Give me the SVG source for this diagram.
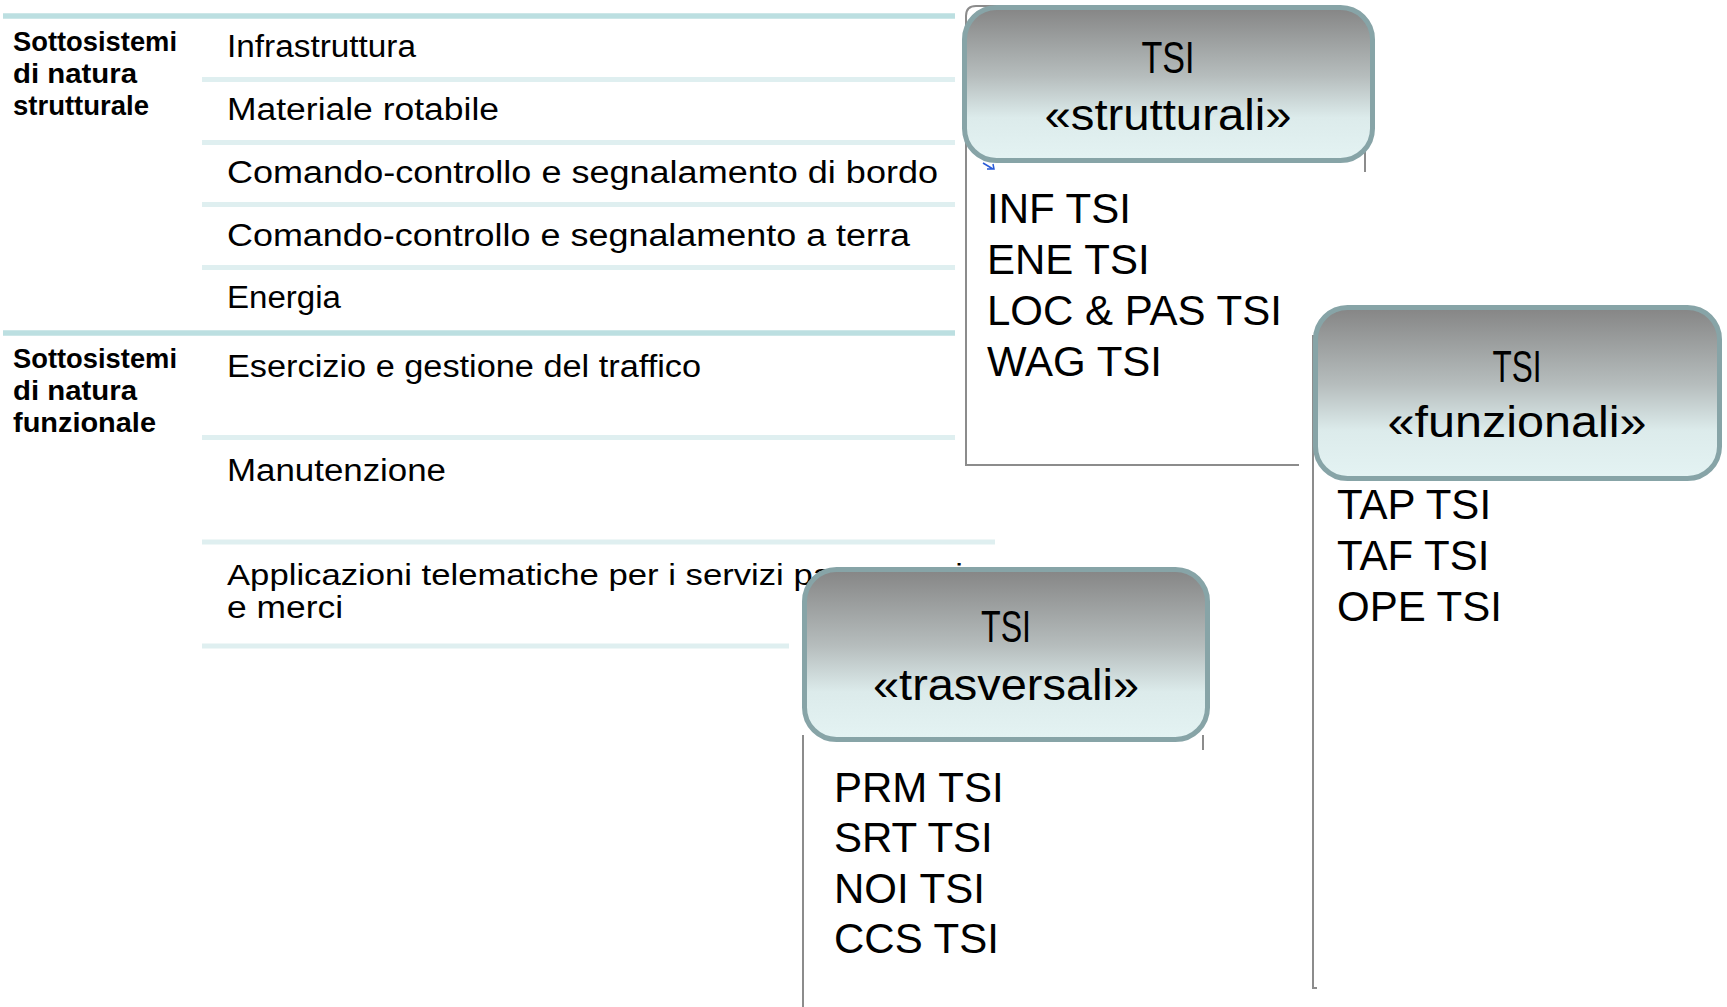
<svg xmlns="http://www.w3.org/2000/svg" width="1727" height="1007" viewBox="0 0 1727 1007">
<defs>
<linearGradient id="hdr" x1="0" y1="0" x2="0" y2="1">
<stop offset="0" stop-color="#858585"/>
<stop offset="0.45" stop-color="#b6bdbd"/>
<stop offset="0.72" stop-color="#dcebeb"/>
<stop offset="1" stop-color="#e4f3f3"/>
</linearGradient>
<style>
.thick{stroke:#bcdfe1;stroke-width:5.5;fill:none}
.row{stroke:#dfeff0;stroke-width:5;fill:none}
.lbl{font-family:"Liberation Sans",Arial,sans-serif;font-weight:bold;font-size:28px;fill:#000}
.cell{font-family:"Liberation Sans",Arial,sans-serif;font-size:31px;fill:#000}
.hdrbox{fill:url(#hdr);stroke:#87a4a7;stroke-width:5}
.hdrtxt{font-family:"Liberation Sans",Arial,sans-serif;font-size:45px;fill:#000;text-anchor:middle}
.list{font-family:"Liberation Sans",Arial,sans-serif;font-size:42px;fill:#000}
.frame{stroke:#8c8c8c;stroke-width:2;fill:none}
</style>
</defs>
<rect width="1727" height="1007" fill="#fff"/>

<g id="table">
<line class="thick" x1="3" y1="16" x2="955" y2="16"/>
<line class="row" x1="202" y1="79.5" x2="955" y2="79.5"/>
<line class="row" x1="202" y1="142.5" x2="955" y2="142.5"/>
<line class="row" x1="202" y1="204.5" x2="955" y2="204.5"/>
<line class="row" x1="202" y1="267.5" x2="955" y2="267.5"/>
<line class="thick" x1="3" y1="333" x2="955" y2="333"/>
<line class="row" x1="202" y1="437.5" x2="955" y2="437.5"/>
<line class="row" x1="202" y1="542" x2="995" y2="542"/>
<line class="row" x1="202" y1="646" x2="789" y2="646"/>

<text class="lbl" x="13" y="51" textLength="164" lengthAdjust="spacingAndGlyphs">Sottosistemi</text>
<text class="lbl" x="13" y="83" textLength="124" lengthAdjust="spacingAndGlyphs">di natura</text>
<text class="lbl" x="13" y="115" textLength="136" lengthAdjust="spacingAndGlyphs">strutturale</text>
<text class="lbl" x="13" y="368" textLength="164" lengthAdjust="spacingAndGlyphs">Sottosistemi</text>
<text class="lbl" x="13" y="400" textLength="124" lengthAdjust="spacingAndGlyphs">di natura</text>
<text class="lbl" x="13" y="432" textLength="143" lengthAdjust="spacingAndGlyphs">funzionale</text>

<text class="cell" x="227" y="57" textLength="189" lengthAdjust="spacingAndGlyphs">Infrastruttura</text>
<text class="cell" x="227" y="120" textLength="272" lengthAdjust="spacingAndGlyphs">Materiale rotabile</text>
<text class="cell" x="227" y="183" textLength="711" lengthAdjust="spacingAndGlyphs">Comando-controllo e segnalamento di bordo</text>
<text class="cell" x="227" y="246" textLength="683" lengthAdjust="spacingAndGlyphs">Comando-controllo e segnalamento a terra</text>
<text class="cell" x="227" y="308" textLength="114" lengthAdjust="spacingAndGlyphs">Energia</text>
<text class="cell" x="227" y="377" textLength="474" lengthAdjust="spacingAndGlyphs">Esercizio e gestione del traffico</text>
<text class="cell" x="227" y="481" textLength="219" lengthAdjust="spacingAndGlyphs">Manutenzione</text>
<text class="cell" x="227" y="585" style="font-size:29px" textLength="736" lengthAdjust="spacingAndGlyphs">Applicazioni telematiche per i servizi passeggeri</text>
<text class="cell" x="227" y="618" textLength="116" lengthAdjust="spacingAndGlyphs">e merci</text>
</g>

<g id="connectors"></g>

<g id="node-strutturali">
<path class="frame" d="M966 465 L966 16 Q966 6 976 6 L1000 6"/>
<line class="frame" x1="965" y1="465" x2="1299" y2="465"/>
<line class="frame" x1="1365" y1="150" x2="1365" y2="172"/>
<path d="M983 163 L993 169 M987 169 L994 169 L993 164" stroke="#2a5bd7" stroke-width="1.5" fill="none"/>
<rect class="hdrbox" x="964.5" y="7.5" width="408" height="153" rx="32"/>
<text class="hdrtxt" x="1168" y="73" textLength="53" lengthAdjust="spacingAndGlyphs">TSI</text>
<text class="hdrtxt" x="1168" y="130" textLength="247" lengthAdjust="spacingAndGlyphs">«strutturali»</text>
<text class="list" x="987" y="223">INF TSI</text>
<text class="list" x="987" y="274">ENE TSI</text>
<text class="list" x="987" y="325">LOC &amp; PAS TSI</text>
<text class="list" x="987" y="376">WAG TSI</text>
</g>

<g id="node-funzionali">
<path class="frame" d="M1313 335 L1313 988 L1317 988"/>
<rect class="hdrbox" x="1315.5" y="307.5" width="404" height="171" rx="32"/>
<text class="hdrtxt" x="1517" y="382" textLength="49" lengthAdjust="spacingAndGlyphs">TSI</text>
<text class="hdrtxt" x="1517" y="437" textLength="259" lengthAdjust="spacingAndGlyphs">«funzionali»</text>
<text class="list" x="1337" y="519">TAP TSI</text>
<text class="list" x="1337" y="570">TAF TSI</text>
<text class="list" x="1337" y="621">OPE TSI</text>
</g>

<g id="node-trasversali">
<line class="frame" x1="803" y1="735" x2="803" y2="1007"/>
<line class="frame" x1="1203" y1="735" x2="1203" y2="750"/>
<rect class="hdrbox" x="804.5" y="569.5" width="403" height="170" rx="32"/>
<text class="hdrtxt" x="1006" y="642" textLength="50" lengthAdjust="spacingAndGlyphs">TSI</text>
<text class="hdrtxt" x="1006" y="700" textLength="266" lengthAdjust="spacingAndGlyphs">«trasversali»</text>
<text class="list" x="834" y="802">PRM TSI</text>
<text class="list" x="834" y="852">SRT TSI</text>
<text class="list" x="834" y="903">NOI TSI</text>
<text class="list" x="834" y="953">CCS TSI</text>
</g>
</svg>
